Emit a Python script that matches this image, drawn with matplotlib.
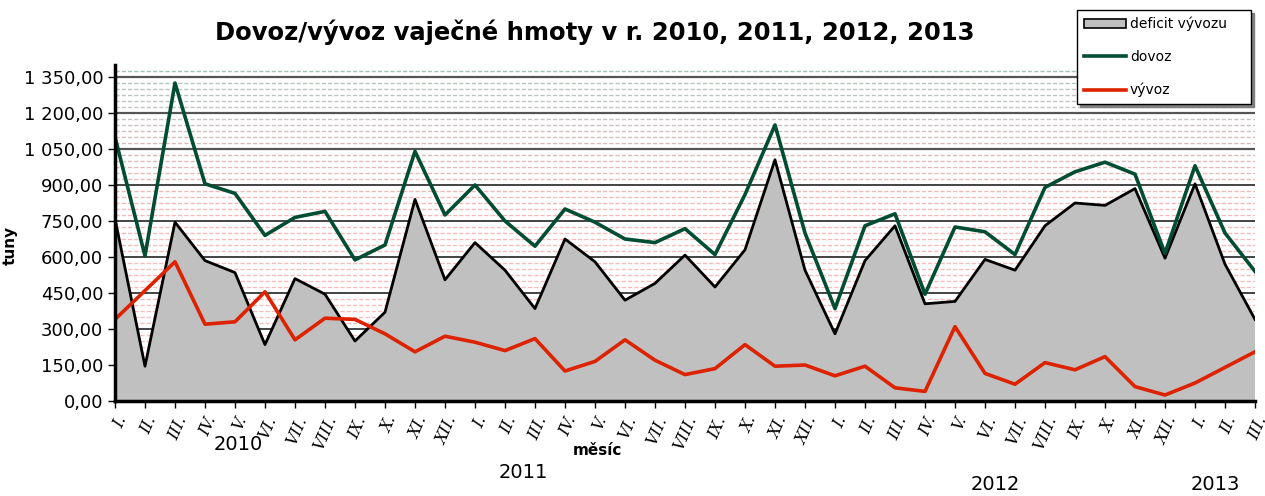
#Dovoz/vývoz vaječné hmoty 2010-2013

import matplotlib
matplotlib.use("Agg")
import matplotlib.pyplot as plt
import numpy as np
from matplotlib.colors import LinearSegmentedColormap

#Měsíce a data (tuny)
mesice = ["I.", "II.", "III.", "IV.", "V.", "VI.", "VII.", "VIII.", "IX.", "X.", "XI.", "XII."] * 3 \
         + ["I.", "II.", "III."]

dovoz = [1100, 605, 1325, 905, 865, 690, 765, 790, 588, 650, 1040, 775,
         900, 750, 645, 800, 745, 675, 660, 718, 610, 860, 1150, 700,
         385, 730, 780, 445, 725, 705, 610, 890, 955, 995, 945, 615,
         980, 700, 540]

vyvoz = [340, 460, 580, 320, 330, 455, 255, 345, 340, 280, 205, 270,
         245, 210, 260, 125, 165, 255, 170, 110, 135, 235, 145, 150,
         105, 145, 55, 40, 310, 115, 70, 160, 130, 185, 60, 25,
         75, 140, 205]

deficit = [760, 145, 745, 585, 535, 235, 510, 445, 250, 370, 840, 505,
           660, 545, 385, 675, 580, 420, 490, 608, 475, 630, 1005, 545,
           280, 585, 730, 405, 415, 590, 545, 730, 825, 815, 885, 595,
           905, 570, 340]

roky = ["2010", "2011", "2012", "2013"]

x = np.arange(len(mesice))

fig = plt.figure(figsize=(12.65, 4.96), dpi=100)
ax = fig.add_axes([0.0909, 0.1915, 0.9012, 0.6775])

#Vedlejší mřížka - přechod od růžové po zelenou
cmap = LinearSegmentedColormap.from_list(
    "mriz", [(0, "#ffc0c0"), (0.6, "#f6b8b8"), (0.75, "#dcbaba"), (0.86, "#c4c4c4"),
             (0.95, "#b4c8bc"), (1, "#98c4ae")])
for v in np.arange(25, 1400, 25):
    if v % 150 == 0:
        continue
    ax.axhline(v, color=cmap(v / 1400), lw=1.0, ls=(0, (3, 1.5)), zorder=0)
for v in np.arange(150, 1400, 150):
    if v < 1000:
        ax.axhline(v, color="#111111", lw=1.1, zorder=0.5)
    else:
        ax.axhline(v, color="#555555", lw=1.6, zorder=0.5)

ax.fill_between(x, deficit, 0, color="#c0c0c0", zorder=1, label="deficit vývozu", edgecolor="none")
ax.plot(x, deficit, color="black", lw=2, zorder=2)
ax.plot(x, dovoz, color="#004d33", lw=2.6, zorder=3, label="dovoz")
ax.plot(x, vyvoz, color="#dd2200", lw=2.6, zorder=3, label="vývoz")

ax.set_xlim(0, len(mesice) - 1)
ax.set_ylim(0, 1400)
ax.set_yticks(np.arange(0, 1351, 150))
ax.set_yticklabels([f"{v:,.2f}".replace(",", " ").replace(".", ",") for v in np.arange(0, 1351, 150)],
                   fontsize=13, family="DejaVu Sans")
ax.set_xticks(x)
ax.set_xticklabels(mesice, rotation=66, ha="right", va="top", rotation_mode="anchor",
                   fontsize=11.5, family="DejaVu Serif", style="italic")
ax.tick_params(axis="x", length=5, width=1, pad=4)
ax.tick_params(axis="y", length=5, width=1)

for s in ["top", "right"]:
    ax.spines[s].set_visible(False)
ax.spines["left"].set_linewidth(2.5)
ax.spines["bottom"].set_linewidth(2.5)
ax.spines["left"].set_zorder(5)
ax.spines["bottom"].set_zorder(5)

ax.set_ylabel("tuny", fontsize=11, fontweight="bold")
ax.yaxis.set_label_coords(-0.085, 0.464)
fig.text(0.472, 0.083, "měsíc", fontsize=11, fontweight="bold", ha="center")

fig.text(0.47, 0.935, "Dovoz/vývoz vaječné hmoty v r. 2010, 2011, 2012, 2013",
         fontsize=17.5, fontweight="bold", ha="center", va="center")

#Roky pod osou
fig.text(238 / 1265, 1 - 445 / 496, roky[0], fontsize=14, ha="center", va="center")
fig.text(523 / 1265, 1 - 472 / 496, roky[1], fontsize=14, ha="center", va="center")
fig.text(995 / 1265, 1 - 485 / 496, roky[2], fontsize=14, ha="center", va="center")
fig.text(1215 / 1265, 1 - 485 / 496, roky[3], fontsize=14, ha="center", va="center")

leg = fig.legend(loc="upper left", bbox_to_anchor=(1077 / 1265, 1 - 103 / 496, 174 / 1265, 93 / 496),
                 mode="expand", fontsize=10, frameon=True, fancybox=False, borderaxespad=0,
                 shadow={"color": "#808080", "alpha": 1, "ox": 2, "oy": -2},
                 borderpad=0.5, labelspacing=1.35, handlelength=3.0, handletextpad=0.3, framealpha=1)
leg.get_frame().set_edgecolor("black")
leg.get_frame().set_linewidth(1.0)
leg.legend_handles[0].set_edgecolor("black")
leg.legend_handles[0].set_linewidth(1.2)

plt.savefig("out.png", dpi=100)
